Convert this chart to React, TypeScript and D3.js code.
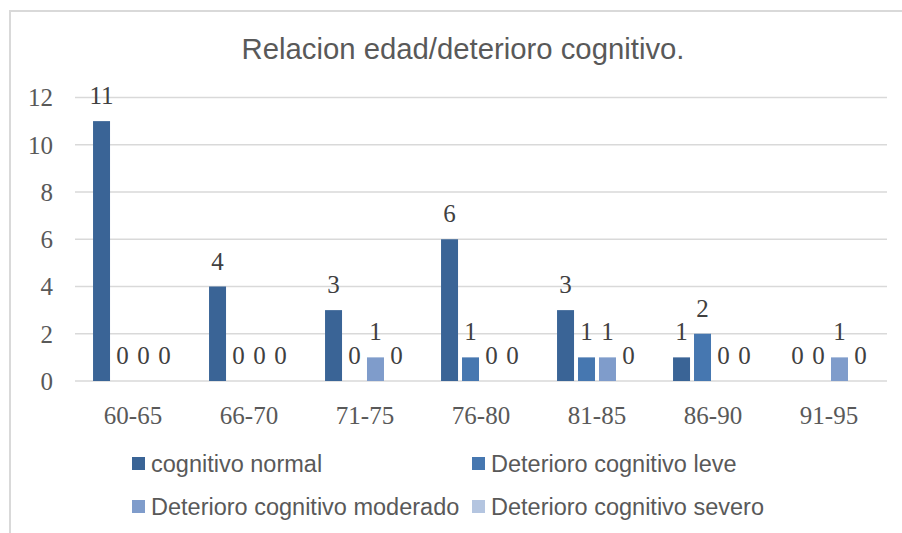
import React, { useRef, useEffect } from 'react';
import * as d3 from 'd3';

// age groups
const categories = ['60-65', '66-70', '71-75', '76-80', '81-85', '86-90', '91-95'];

const seriesNames = [
  'cognitivo normal',
  'Deterioro cognitivo leve',
  'Deterioro cognitivo moderado',
  'Deterioro cognitivo severo',
];

const normalValues = [11, 4, 3, 6, 3, 1, 0];
const leveValues = [0, 0, 0, 1, 1, 2, 0];
const moderadoValues = [0, 0, 1, 0, 1, 0, 1];
const severoValues = [0, 0, 0, 0, 0, 0, 0];

const yTicks = [0, 2, 4, 6, 8, 10, 12];

const colors = ['#3a6496', '#4677b0', '#7f9ccb', '#b4c5e0'];

const App = () => {
  const svgRef = useRef<SVGSVGElement>(null);

  useEffect(() => {
    const width = 902;
    const height = 533;
    const margin = { top: 97.5, right: 15, bottom: 152, left: 75 };

    const allValues = [normalValues, leveValues, moderadoValues, severoValues];

    const svg = d3.select(svgRef.current)
      .attr('width', width)
      .attr('height', height);

    svg.selectAll('*').remove();

    // chart frame
    svg.append('rect')
      .attr('x', 10)
      .attr('y', 11)
      .attr('width', 905)
      .attr('height', 540)
      .attr('fill', '#fff')
      .attr('stroke', '#d9d9d9')
      .attr('stroke-width', 2);

    // title
    svg.append('text')
      .attr('x', 463)
      .attr('y', 59)
      .attr('text-anchor', 'middle')
      .style('font-family', '"Liberation Sans", Arial, sans-serif')
      .style('font-size', '29.3px')
      .attr('fill', '#595959')
      .text('Relacion edad/deterioro cognitivo.');

    const x0 = d3.scaleBand()
      .domain(categories)
      .range([margin.left, width - margin.right]);

    const x1 = d3.scaleBand()
      .domain(seriesNames)
      .range([0, x0.bandwidth()])
      .paddingInner(0.19)
      .paddingOuter(0.86);

    const y = d3.scaleLinear()
      .domain([0, 12])
      .range([height - margin.bottom, margin.top]);

    // gridlines
    svg.append('g')
      .selectAll('line')
      .data(yTicks)
      .enter()
      .append('line')
      .attr('x1', margin.left)
      .attr('x2', width - margin.right)
      .attr('y1', d => y(d))
      .attr('y2', d => y(d))
      .attr('stroke', '#d9d9d9')
      .attr('stroke-width', 1.5);

    const serif = '"Liberation Serif", serif';

    // y labels
    svg.append('g')
      .selectAll('text')
      .data(yTicks)
      .enter()
      .append('text')
      .attr('x', 53)
      .attr('y', d => y(d))
      .attr('dy', '0.35em')
      .attr('text-anchor', 'end')
      .style('font-family', serif)
      .style('font-size', '25px')
      .attr('fill', '#595959')
      .text(d => d);

    // x labels
    svg.append('g')
      .selectAll('text')
      .data(categories)
      .enter()
      .append('text')
      .attr('x', d => x0(d) + x0.bandwidth() / 2)
      .attr('y', 424)
      .attr('text-anchor', 'middle')
      .style('font-family', serif)
      .style('font-size', '25px')
      .attr('fill', '#595959')
      .text(d => d);

    // bars + labels per series
    seriesNames.forEach((name, si) => {
      const vals = allValues[si];
      const rows = categories.map((c, i) => ({ cat: c, value: vals[i] }));
      const g = svg.append('g');

      g.selectAll('rect')
        .data(rows.filter(d => d.value > 0))
        .enter()
        .append('rect')
        .attr('x', d => x0(d.cat) + x1(name))
        .attr('y', d => y(d.value))
        .attr('width', x1.bandwidth())
        .attr('height', d => y(0) - y(d.value))
        .attr('fill', colors[si]);

      g.selectAll('text')
        .data(rows)
        .enter()
        .append('text')
        .attr('x', d => x0(d.cat) + x1(name) + x1.bandwidth() / 2)
        .attr('y', d => y(d.value) - 17)
        .attr('text-anchor', 'middle')
        .style('font-family', serif)
        .style('font-size', '25px')
        .attr('fill', '#404040')
        .text(d => d.value);
    });

    // legend
    const legendPos = [
      { x: 132, y: 457 },
      { x: 472, y: 457 },
      { x: 132, y: 500 },
      { x: 472, y: 500 },
    ];
    const legend = svg.append('g');
    seriesNames.forEach((name, i) => {
      const p = legendPos[i];
      legend.append('rect')
        .attr('x', p.x)
        .attr('y', p.y)
        .attr('width', 13)
        .attr('height', 13)
        .attr('fill', colors[i]);
      legend.append('text')
        .attr('x', p.x + 19)
        .attr('y', p.y + 7)
        .attr('dy', '0.35em')
        .style('font-family', '"Liberation Sans", Arial, sans-serif')
        .style('font-size', '23.5px')
        .attr('fill', '#595959')
        .text(name);
    });
  }, []);

  return (
    <svg ref={svgRef} style={{ position: 'absolute', left: 0, top: 0 }}></svg>
  );
};

export default App;
